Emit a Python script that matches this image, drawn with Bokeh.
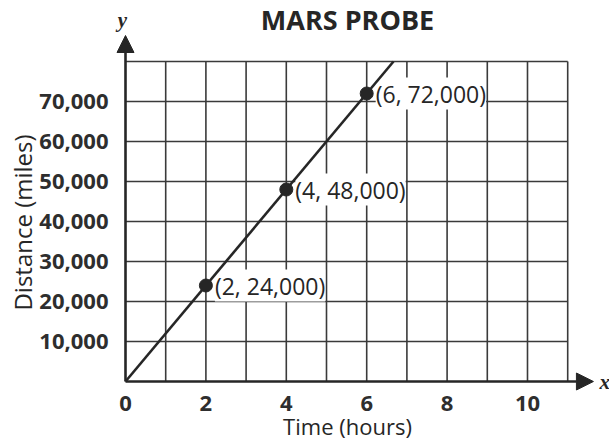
import math
from bokeh.plotting import figure
from bokeh.models import (Range1d, FixedTicker, NumeralTickFormatter, Label,
                          Arrow, NormalHead, ColumnDataSource)
from bokeh.core.properties import value
from bokeh.embed import file_html
from bokeh.resources import INLINE

# ---- data ----
title_text = "MARS PROBE"
x_axis_title = "Time (hours)"
y_axis_title = "Distance (miles)"
times = [2, 4, 6]                      # hours
distances = [24000, 48000, 72000]      # miles
point_labels = ["(2, 24,000)", "(4, 48,000)", "(6, 72,000)"]
rate = 12000                           # miles per hour
x_ticks = [0, 2, 4, 6, 8, 10]
y_ticks = [10000, 20000, 30000, 40000, 50000, 60000, 70000]
x_grid_max = 11
y_grid_max = 80000
x_grid_step = 1
y_grid_step = 10000

FONT = "Open Sans"
INK = "#262626"
GRID = "#3a3a3a"

W, H = 609, 441
X0, Y0 = 125, 381          # pixel position of the origin
PX_X, PX_Y = 40.2, 40.0 / 10000

p = figure(width=W, height=H,
           x_range=Range1d(-X0 / PX_X, (W - X0) / PX_X),
           y_range=Range1d(-(H - Y0) / PX_Y, Y0 / PX_Y),
           output_backend="svg", toolbar_location=None, title=None,
           min_border=0, min_border_left=0, min_border_right=0,
           min_border_top=0, min_border_bottom=0)
p.outline_line_color = None
p.grid.visible = False
p.background_fill_color = "white"
p.border_fill_color = "white"

# axes through the origin: ticks and labels only
for ax in (p.xaxis[0], p.yaxis[0]):
    ax.fixed_location = 0
    ax.axis_line_color = None
    ax.major_tick_line_color = None
    ax.minor_tick_line_color = None
    ax.major_label_text_font = FONT
    ax.major_label_text_font_size = "22px"
    ax.major_label_text_font_style = "bold"
    ax.major_label_text_color = "#2e2e2e"
p.xaxis[0].ticker = FixedTicker(ticks=x_ticks)
p.yaxis[0].ticker = FixedTicker(ticks=y_ticks)
p.yaxis[0].formatter = NumeralTickFormatter(format="0,0")
p.xaxis[0].major_label_standoff = 8
p.yaxis[0].major_label_standoff = 11

# grid
gx = list(range(x_grid_step, x_grid_max + 1, x_grid_step))
gy = list(range(y_grid_step, y_grid_max + 1, y_grid_step))
p.segment(x0=gx, y0=[0] * len(gx), x1=gx, y1=[y_grid_max] * len(gx),
          line_color=GRID, line_width=1.6)
p.segment(x0=[0] * len(gy), y0=gy, x1=[x_grid_max] * len(gy), y1=gy,
          line_color=GRID, line_width=1.6)

# axis arrows
p.add_layout(Arrow(end=NormalHead(size=17, fill_color=INK, line_color=INK),
                   x_start=0, y_start=0, x_end=0, y_end=86500,
                   line_color=INK, line_width=2.6))
p.add_layout(Arrow(end=NormalHead(size=17, fill_color=INK, line_color=INK),
                   x_start=0, y_start=0, x_end=11.64, y_end=0,
                   line_color=INK, line_width=2.6))

# point labels
src = ColumnDataSource(dict(x=times, y=distances, label=point_labels))
p.text(x="x", y="y", text="label", source=src, x_offset=9,
       text_align="left", text_baseline="middle",
       text_font=value(FONT), text_font_size="23px", text_color=INK,
       background_fill_color="white")

# line and points
p.line(x=[0, y_grid_max / rate], y=[0, y_grid_max], line_color=INK, line_width=2.6)
p.scatter(x="x", y="y", source=src, size=13, fill_color=INK, line_color=INK)

# texts
p.add_layout(Label(x=(347 - X0) / PX_X, y=(Y0 - 19) / PX_Y, text=title_text,
                   text_align="center", text_baseline="middle", text_font=FONT,
                   text_font_size="27px", text_font_style="bold", text_color=INK))
p.add_layout(Label(x=(122 - X0) / PX_X, y=(Y0 - 19) / PX_Y, text="y",
                   text_align="center", text_baseline="middle",
                   text_font="Liberation Serif", text_font_size="21px",
                   text_font_style="bold italic", text_color=INK))
p.add_layout(Label(x=(599 - X0) / PX_X, y=0, text="x", text_align="left",
                   text_baseline="middle", text_font="Liberation Serif",
                   text_font_size="21px", text_font_style="bold italic",
                   text_color=INK))
p.add_layout(Label(x=(347 - X0) / PX_X, y=(Y0 - 425) / PX_Y, text=x_axis_title,
                   text_align="center", text_baseline="middle", text_font=FONT,
                   text_font_size="22px", text_color=INK))
p.add_layout(Label(x=(22 - X0) / PX_X, y=(Y0 - 222) / PX_Y, text=y_axis_title,
                   text_align="center", text_baseline="middle", text_font=FONT,
                   text_font_size="24px", angle=math.pi / 2, text_color=INK))

open("out.html", "w").write(file_html(p, INLINE))
